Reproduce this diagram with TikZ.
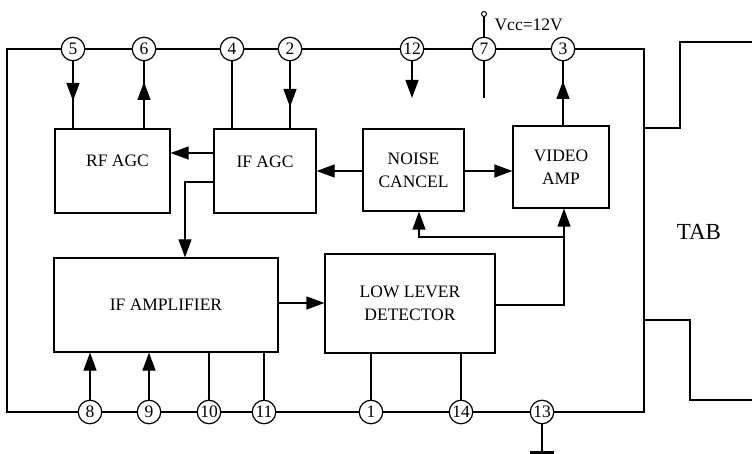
\documentclass[tikz,border=0pt]{standalone}
\usepackage{fontspec}
\setmainfont{Liberation Serif}
\usetikzlibrary{arrows.meta}
\begin{document}
\begin{tikzpicture}[x=1pt,y=-1pt,
  line width=1.2pt,
  arr/.style={-{Triangle[length=18pt,width=13pt]}},
  pin/.style={circle,draw,fill=white,minimum size=23.5pt,inner sep=0pt,font=\fontsize{17.5}{18}\selectfont},
  blk/.style={draw,rectangle,inner sep=0pt,align=center,font=\fontsize{17.5}{23}\selectfont},
  lbl/.style={font=\fontsize{17.5}{18}\selectfont,inner sep=0pt}]
\useasboundingbox (0,0) rectangle (752,454);
% frame of the chip
\draw (7,49) rectangle (644,412);
% TAB
\coordinate (t1) at (644,128);
\coordinate (t2) at (644,320);
\draw (t1) -- (680,128) -- (680,42) -- (752,42);
\draw (t2) -- (690,320) -- (690,400) -- (752,400);
\node[lbl,font=\fontsize{23}{24}\selectfont] (tab) at (699,232) {TAB};
% pins top
\node[pin] (p5) at (73,49) {5};
\node[pin] (p6) at (144,49) {6};
\node[pin] (p4) at (232,49) {4};
\node[pin] (p2) at (290,49) {2};
\node[pin] (p12) at (412,49) {12};
\node[pin] (p7) at (484,49) {7};
\node[pin] (p3) at (563,49) {3};
% pins bottom
\node[pin] (p8) at (90,412) {8};
\node[pin] (p9) at (149,412) {9};
\node[pin] (p10) at (209,412) {10};
\node[pin] (p11) at (264,412) {11};
\node[pin] (p1) at (371,412) {1};
\node[pin] (p14) at (461,412) {14};
\node[pin] (p13) at (542,412) {13};
% blocks
\node[blk,minimum width=115pt,minimum height=84pt] (rf) at (112.5,171) {\hspace*{10pt}RF AGC\\[-3pt]};
\node[blk,minimum width=102pt,minimum height=84pt] (ifagc) at (265,171) {IF AGC\\[-4pt]};
\node[blk,minimum width=101pt,minimum height=82pt] (nc) at (413.5,170) {NOISE\\CANCEL};
\node[blk,minimum width=96pt,minimum height=82pt] (va) at (561,167) {VIDEO\\AMP};
\node[blk,minimum width=224pt,minimum height=94pt] (ifamp) at (166,305) {IF AMPLIFIER};
\node[blk,minimum width=170pt,minimum height=99pt] (det) at (410,303.5) {LOW LEVER\\DETECTOR};
% Vcc
\node[circle,draw,line width=1pt,minimum size=5pt,inner sep=0pt] (vcc) at (484,14) {};
\draw (vcc) -- (p7);
\node[lbl,anchor=west] (vcctxt) at (494,25) {Vcc=12V};
\coordinate (p7e) at (484,98);
\draw (p7) -- (p7e);
\coordinate (p12e) at (412,98);
\draw[arr] (p12) -- (p12e);
% top pin connections
\coordinate (a5) at (73,101);
\draw (p5) -- (rf.north -| p5);
\draw[arr] (p5) -- (a5);
\coordinate (a6) at (144,82);
\draw (rf.north -| p6) -- (p6);
\draw[arr] (rf.north -| p6) -- (a6);
\draw (ifagc.north -| p4) -- (p4);
\coordinate (a2) at (290,107);
\draw (p2) -- (ifagc.north -| p2);
\draw[arr] (p2) -- (a2);
\coordinate (a3) at (563,81);
\draw (va.north -| p3) -- (p3);
\draw[arr] (va.north -| p3) -- (a3);
% block connections
\draw[arr] (ifagc.west |- 0,153) -- (rf.east |- 0,153);
\draw[arr] (nc.west |- 0,171) -- (ifagc.east |- 0,171);
\draw[arr] (nc.east |- 0,171) -- (va.west |- 0,171);
\coordinate (k1) at (185,182);
\draw[arr] (ifagc.west |- k1) -- (k1) -- (ifamp.north -| k1);
\draw[arr] (ifamp.east |- 0,303) -- (det.west |- 0,303);
\coordinate (k2) at (564,305);
\coordinate (k3) at (564,237);
\coordinate (k4) at (419,237);
\draw[arr] (det.east |- k2) -- (k2) -- (va.south -| k2);
\draw[arr] (k3) -- (k4) -- (nc.south -| k4);
% bottom pin connections
\draw[arr] (p8) -- (ifamp.south -| p8);
\draw[arr] (p9) -- (ifamp.south -| p9);
\draw (p10) -- (ifamp.south -| p10);
\draw (p11) -- (ifamp.south -| p11);
\draw (p1) -- (det.south -| p1);
\draw (p14) -- (det.south -| p14);
% ground
\coordinate (gnd) at (542,452);
\draw (p13) -- (gnd);
\draw[line width=3pt] ([xshift=-12pt]gnd) -- ([xshift=12pt]gnd);
\end{tikzpicture}
\end{document}
